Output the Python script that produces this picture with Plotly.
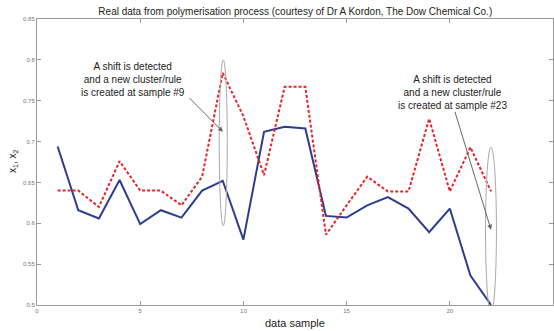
import plotly.graph_objects as go

samples = list(range(1, 23))
x1_values = [0.694, 0.616, 0.606, 0.653, 0.599, 0.616, 0.607, 0.640, 0.652, 0.580,
             0.712, 0.718, 0.716, 0.609, 0.607, 0.622, 0.632, 0.618, 0.589, 0.618,
             0.536, 0.500]
x2_values = [0.640, 0.640, 0.620, 0.676, 0.640, 0.640, 0.622, 0.657, 0.784, 0.731,
             0.659, 0.767, 0.767, 0.586, 0.622, 0.657, 0.639, 0.639, 0.728, 0.639,
             0.693, 0.639]
x_ticks = [0, 5, 10, 15, 20, 25]
y_ticks = [0.5, 0.55, 0.6, 0.65, 0.7, 0.75, 0.8, 0.85]
title = "Real data from polymerisation process (courtesy of Dr A Kordon, The Dow Chemical Co.)"
note_9 = "A shift is detected<br>and a new cluster/rule<br>is created at sample #9"
note_23 = "A shift is detected<br>and a new cluster/rule<br>is created at sample #23"
x_title = "data sample"
y_title = "x<sub>1</sub>, x<sub>2</sub>"

fig = go.Figure()
fig.add_trace(go.Scatter(x=samples, y=x1_values, mode="lines",
                         line=dict(color="#2c3d8f", width=2), showlegend=False))
fig.add_trace(go.Scatter(x=samples, y=x2_values, mode="lines",
                         line=dict(color="#e3262b", width=2, dash="3px,2px"), showlegend=False))

# ellipses
fig.add_shape(type="circle", xref="x", yref="y", x0=8.83, x1=9.22, y0=0.597, y1=0.80,
              line=dict(color="#aaaaaa", width=1))
fig.add_shape(type="circle", xref="x", yref="y", x0=21.73, x1=22.26, y0=0.49, y1=0.693,
              line=dict(color="#aaaaaa", width=1))

font_ann = dict(family="Liberation Sans, Arial, sans-serif", size=10, color="#222222")
fig.add_annotation(x=4.66, y=0.776, xref="x", yref="y", text=note_9, showarrow=False,
                   font=font_ann, align="center")
fig.add_annotation(x=20.13, y=0.760, xref="x", yref="y", text=note_23, showarrow=False,
                   font=font_ann, align="center")
fig.add_annotation(x=9.01, y=0.712, ax=7.32, ay=0.755, xref="x", yref="y", axref="x", ayref="y",
                   text="", showarrow=True, arrowhead=2, arrowsize=1, arrowwidth=1,
                   arrowcolor="#666666")
fig.add_annotation(x=22.0, y=0.592, ax=20.23, ay=0.738, xref="x", yref="y", axref="x", ayref="y",
                   text="", showarrow=True, arrowhead=2, arrowsize=1, arrowwidth=1,
                   arrowcolor="#666666")

# axis titles as annotations for precise placement
fig.add_annotation(x=0.5, y=0, xref="paper", yref="paper", text=x_title, showarrow=False,
                   yshift=-18, yanchor="middle", xanchor="center",
                   font=dict(size=11, color="#222222"))
fig.add_annotation(x=0, y=0.5, xref="paper", yref="paper", text=y_title, showarrow=False,
                   xshift=-24, xanchor="center", yanchor="middle", textangle=-90,
                   font=dict(size=10, color="#222222"))

axis_common = dict(showline=True, linecolor="#999999", linewidth=1, mirror="ticks",
                   ticks="inside", ticklen=4, tickcolor="#999999", showgrid=False,
                   zeroline=False, tickfont=dict(size=6, color="#777777"))
fig.update_xaxes(range=[0, 25], tickvals=x_ticks, ticktext=[str(v) for v in x_ticks],
                 **axis_common)
fig.update_yaxes(range=[0.5, 0.85], tickvals=y_ticks, ticktext=[f"{v:g}" for v in y_ticks],
                 **axis_common)

fig.update_layout(
    width=554, height=331,
    margin=dict(l=37, r=1, t=19, b=26),
    paper_bgcolor="white", plot_bgcolor="white",
    font=dict(family="Liberation Sans, Arial, sans-serif"),
    title=dict(text=title, x=0.533, xanchor="center", y=0.965, yanchor="middle",
               font=dict(size=10, color="#222222")),
)
fig.write_html("out.html", config={"displayModeBar": False},
               post_script="document.body.style.margin='0px';")
